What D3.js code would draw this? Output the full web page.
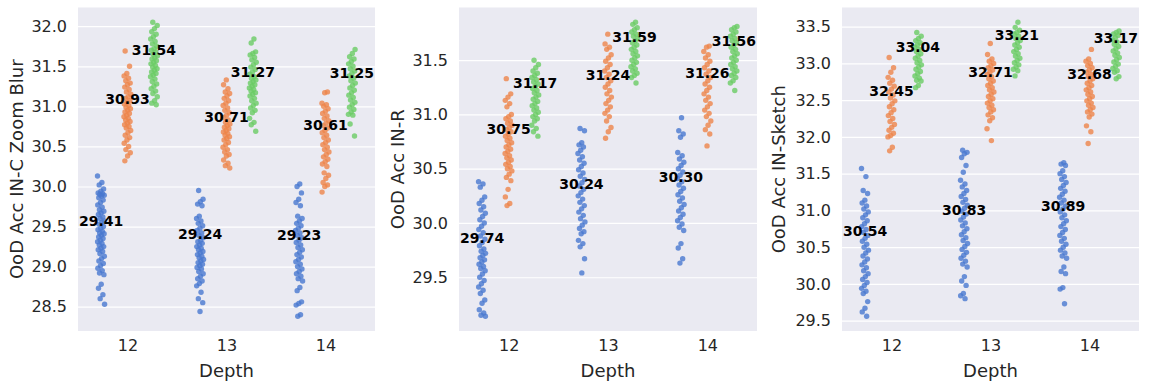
<!DOCTYPE html>
<html>
<head>
<meta charset="utf-8">
<script src="https://cdn.jsdelivr.net/npm/d3@7"></script>
<style>
  body { margin: 0; background: #fff; }
  svg { display: block; font-family: "DejaVu Sans", sans-serif; }
</style>
</head>
<body>
<svg id="chart"></svg>
<script>
const depths = ["12", "13", "14"];
const hueColors = ["#4878d0", "#ee854a", "#6acc64"];

// OoD Acc IN-C Zoom Blur
const zb12a = [30.13, 30.05, 30.02, 29.97, 29.94, 29.92, 29.91, 29.90, 29.89, 29.88, 29.86, 29.83, 29.80, 29.77, 29.74, 29.71, 29.69, 29.67, 29.65, 29.62, 29.60, 29.57, 29.55, 29.53, 29.50, 29.48, 29.46, 29.44, 29.42, 29.41, 29.39, 29.37, 29.35, 29.33, 29.31, 29.29, 29.27, 29.25, 29.23, 29.21, 29.19, 29.16, 29.13, 29.10, 29.07, 29.04, 29.01, 28.98, 28.95, 28.92, 28.90, 28.78, 28.73, 28.65, 28.60, 28.53];
const zb12b = [31.69, 31.50, 31.41, 31.38, 31.35, 31.32, 31.29, 31.27, 31.24, 31.21, 31.18, 31.15, 31.12, 31.10, 31.07, 31.05, 31.03, 31.01, 30.99, 30.97, 30.95, 30.93, 30.91, 30.89, 30.87, 30.85, 30.83, 30.81, 30.79, 30.77, 30.75, 30.73, 30.70, 30.67, 30.64, 30.61, 30.58, 30.54, 30.50, 30.46, 30.42, 30.38, 30.32];
const zb12c = [32.05, 32.01, 31.97, 31.93, 31.90, 31.87, 31.84, 31.81, 31.78, 31.75, 31.72, 31.70, 31.68, 31.65, 31.63, 31.61, 31.59, 31.57, 31.55, 31.53, 31.51, 31.49, 31.47, 31.45, 31.43, 31.41, 31.39, 31.37, 31.34, 31.31, 31.28, 31.25, 31.22, 31.19, 31.16, 31.12, 31.07, 31.04, 31.02];
const zb13a = [29.95, 29.84, 29.81, 29.78, 29.76, 29.63, 29.60, 29.57, 29.54, 29.51, 29.48, 29.45, 29.42, 29.39, 29.36, 29.33, 29.31, 29.29, 29.27, 29.25, 29.23, 29.21, 29.19, 29.17, 29.15, 29.13, 29.11, 29.09, 29.07, 29.05, 29.03, 29.01, 28.99, 28.97, 28.94, 28.91, 28.88, 28.85, 28.82, 28.79, 28.76, 28.68, 28.60, 28.55, 28.44];
const zb13b = [31.33, 31.27, 31.22, 31.18, 31.16, 31.13, 31.10, 31.07, 31.04, 31.01, 30.98, 30.95, 30.92, 30.89, 30.86, 30.83, 30.80, 30.78, 30.76, 30.74, 30.72, 30.70, 30.68, 30.66, 30.64, 30.62, 30.60, 30.58, 30.55, 30.52, 30.49, 30.46, 30.43, 30.40, 30.38, 30.33, 30.29, 30.26, 30.23];
const zb13c = [31.84, 31.79, 31.68, 31.66, 31.64, 31.61, 31.58, 31.55, 31.52, 31.49, 31.46, 31.43, 31.40, 31.37, 31.35, 31.33, 31.31, 31.29, 31.27, 31.25, 31.23, 31.21, 31.19, 31.17, 31.15, 31.13, 31.10, 31.07, 31.04, 31.01, 30.98, 30.95, 30.92, 30.85, 30.80, 30.77, 30.69];
const zb14a = [30.03, 30.00, 29.92, 29.84, 29.80, 29.76, 29.63, 29.60, 29.57, 29.54, 29.51, 29.48, 29.45, 29.42, 29.39, 29.36, 29.33, 29.30, 29.27, 29.24, 29.21, 29.18, 29.15, 29.12, 29.09, 29.06, 29.03, 29.00, 28.97, 28.94, 28.91, 28.88, 28.85, 28.82, 28.74, 28.70, 28.56, 28.54, 28.52, 28.40, 28.38];
const zb14b = [31.18, 31.17, 31.04, 31.02, 31.00, 30.97, 30.94, 30.91, 30.88, 30.85, 30.82, 30.79, 30.76, 30.73, 30.70, 30.67, 30.64, 30.61, 30.58, 30.55, 30.52, 30.49, 30.46, 30.43, 30.40, 30.37, 30.34, 30.31, 30.28, 30.25, 30.17, 30.14, 30.10, 30.05, 30.02, 30.00, 29.93];
const zb14c = [31.71, 31.66, 31.62, 31.59, 31.56, 31.53, 31.50, 31.47, 31.44, 31.41, 31.38, 31.35, 31.32, 31.29, 31.26, 31.23, 31.20, 31.17, 31.14, 31.11, 31.08, 31.05, 31.02, 30.99, 30.96, 30.93, 30.90, 30.89, 30.78, 30.63];
const zbMeans = [[29.41, 30.93, 31.54], [29.24, 30.71, 31.27], [29.23, 30.61, 31.25]];
const zbTicks = [28.5, 29.0, 29.5, 30.0, 30.5, 31.0, 31.5, 32.0];

// OoD Acc IN-R
const ir12a = [30.38, 30.36, 30.33, 30.24, 30.21, 30.18, 30.15, 30.12, 30.09, 30.06, 30.03, 30.00, 29.97, 29.94, 29.91, 29.88, 29.85, 29.82, 29.79, 29.76, 29.74, 29.72, 29.70, 29.68, 29.66, 29.64, 29.62, 29.60, 29.58, 29.56, 29.53, 29.50, 29.47, 29.44, 29.41, 29.38, 29.35, 29.29, 29.26, 29.20, 29.17, 29.15, 29.14];
const ir12b = [31.33, 31.19, 31.16, 31.13, 31.10, 31.07, 31.00, 30.98, 30.96, 30.94, 30.92, 30.90, 30.88, 30.86, 30.84, 30.82, 30.80, 30.78, 30.76, 30.74, 30.72, 30.70, 30.68, 30.66, 30.64, 30.62, 30.60, 30.58, 30.56, 30.54, 30.52, 30.50, 30.48, 30.45, 30.42, 30.39, 30.31, 30.24, 30.18, 30.16];
const ir12c = [31.50, 31.46, 31.43, 31.40, 31.38, 31.36, 31.34, 31.32, 31.30, 31.28, 31.26, 31.24, 31.22, 31.20, 31.18, 31.16, 31.14, 31.12, 31.10, 31.08, 31.06, 31.04, 31.02, 31.00, 30.98, 30.96, 30.94, 30.90, 30.87, 30.84, 30.80];
const ir13a = [30.87, 30.85, 30.74, 30.72, 30.70, 30.67, 30.64, 30.61, 30.58, 30.55, 30.52, 30.49, 30.46, 30.43, 30.40, 30.37, 30.34, 30.31, 30.28, 30.25, 30.22, 30.19, 30.16, 30.13, 30.10, 30.07, 30.04, 30.01, 29.98, 29.95, 29.92, 29.90, 29.84, 29.81, 29.78, 29.67, 29.54];
const ir13b = [31.74, 31.65, 31.62, 31.60, 31.55, 31.52, 31.49, 31.46, 31.43, 31.40, 31.37, 31.34, 31.31, 31.28, 31.25, 31.22, 31.19, 31.16, 31.13, 31.10, 31.07, 31.04, 31.01, 30.98, 30.94, 30.88, 30.84, 30.78];
const ir13c = [31.85, 31.83, 31.80, 31.78, 31.76, 31.74, 31.72, 31.70, 31.68, 31.66, 31.64, 31.62, 31.60, 31.58, 31.56, 31.54, 31.52, 31.50, 31.48, 31.46, 31.44, 31.42, 31.40, 31.38, 31.36, 31.34, 31.29];
const ir14a = [30.97, 30.85, 30.82, 30.79, 30.65, 30.62, 30.59, 30.56, 30.53, 30.50, 30.47, 30.44, 30.41, 30.38, 30.35, 30.32, 30.29, 30.26, 30.23, 30.20, 30.17, 30.14, 30.11, 30.08, 30.05, 30.02, 29.99, 29.96, 29.93, 29.81, 29.77, 29.67, 29.63];
const ir14b = [31.63, 31.62, 31.58, 31.55, 31.52, 31.49, 31.46, 31.43, 31.40, 31.37, 31.34, 31.31, 31.28, 31.25, 31.22, 31.19, 31.16, 31.13, 31.10, 31.07, 31.04, 31.01, 30.98, 30.94, 30.90, 30.86, 30.82, 30.71];
const ir14c = [31.81, 31.80, 31.78, 31.76, 31.74, 31.72, 31.70, 31.68, 31.66, 31.64, 31.62, 31.60, 31.58, 31.56, 31.54, 31.52, 31.50, 31.48, 31.46, 31.44, 31.42, 31.40, 31.38, 31.36, 31.34, 31.31, 31.29, 31.22];
const irMeans = [[29.74, 30.75, 31.17], [30.24, 31.24, 31.59], [30.30, 31.26, 31.56]];
const irTicks = [29.5, 30.0, 30.5, 31.0, 31.5];

// OoD Acc IN-Sketch
const sk12a = [31.57, 31.46, 31.27, 31.23, 31.14, 31.10, 31.06, 31.02, 30.98, 30.94, 30.90, 30.86, 30.82, 30.78, 30.74, 30.70, 30.66, 30.62, 30.58, 30.54, 30.50, 30.46, 30.42, 30.38, 30.34, 30.30, 30.26, 30.22, 30.18, 30.14, 30.10, 30.06, 30.02, 29.98, 29.94, 29.90, 29.87, 29.76, 29.67, 29.62, 29.56];
const sk12b = [33.08, 32.94, 32.88, 32.81, 32.77, 32.73, 32.69, 32.65, 32.61, 32.57, 32.53, 32.49, 32.45, 32.41, 32.37, 32.33, 32.29, 32.25, 32.21, 32.17, 32.13, 32.09, 32.05, 32.02, 32.00, 31.86, 31.81];
const sk12c = [33.42, 33.37, 33.34, 33.31, 33.28, 33.25, 33.22, 33.19, 33.16, 33.13, 33.10, 33.07, 33.04, 33.01, 32.98, 32.95, 32.92, 32.89, 32.86, 32.83, 32.80, 32.77, 32.76, 32.70, 32.67];
const sk13a = [31.82, 31.79, 31.77, 31.72, 31.61, 31.52, 31.41, 31.36, 31.32, 31.27, 31.23, 31.19, 31.15, 31.11, 31.07, 31.03, 30.99, 30.95, 30.91, 30.87, 30.83, 30.79, 30.75, 30.71, 30.67, 30.63, 30.59, 30.55, 30.51, 30.47, 30.43, 30.39, 30.35, 30.31, 30.27, 30.23, 30.10, 30.04, 29.98, 29.87, 29.84, 29.80];
const sk13b = [33.27, 33.12, 33.06, 33.03, 33.00, 32.97, 32.94, 32.91, 32.88, 32.85, 32.82, 32.79, 32.76, 32.73, 32.70, 32.67, 32.64, 32.61, 32.58, 32.55, 32.52, 32.49, 32.46, 32.43, 32.40, 32.37, 32.34, 32.30, 32.26, 32.22, 32.11, 31.95];
const sk13c = [33.56, 33.49, 33.45, 33.42, 33.40, 33.37, 33.34, 33.31, 33.28, 33.25, 33.22, 33.19, 33.16, 33.13, 33.10, 33.07, 33.04, 33.01, 32.98, 32.95, 32.92, 32.90, 32.83];
const sk14a = [31.65, 31.63, 31.61, 31.54, 31.50, 31.46, 31.42, 31.38, 31.34, 31.30, 31.26, 31.22, 31.18, 31.14, 31.10, 31.06, 31.02, 30.98, 30.94, 30.90, 30.86, 30.82, 30.78, 30.74, 30.70, 30.66, 30.62, 30.58, 30.54, 30.50, 30.46, 30.42, 30.38, 30.35, 30.23, 30.17, 30.14, 29.95, 29.93, 29.73];
const sk14b = [33.19, 33.06, 33.03, 33.00, 32.97, 32.94, 32.91, 32.88, 32.85, 32.82, 32.79, 32.76, 32.73, 32.70, 32.67, 32.64, 32.61, 32.58, 32.55, 32.52, 32.49, 32.46, 32.43, 32.40, 32.37, 32.34, 32.31, 32.27, 32.15, 32.07, 31.91];
const sk14c = [33.44, 33.42, 33.40, 33.38, 33.35, 33.32, 33.29, 33.26, 33.23, 33.20, 33.17, 33.14, 33.11, 33.08, 33.05, 33.02, 32.99, 32.96, 32.93, 32.90, 32.88, 32.82, 32.79];
const skMeans = [[30.54, 32.45, 33.04], [30.83, 32.71, 33.21], [30.89, 32.68, 33.17]];
const skTicks = [29.5, 30.0, 30.5, 31.0, 31.5, 32.0, 32.5, 33.0, 33.5];

const panels = [
  { label: "OoD Acc IN-C Zoom Blur", groups: [[zb12a, zb12b, zb12c], [zb13a, zb13b, zb13c], [zb14a, zb14b, zb14c]],
    means: zbMeans, ticks: zbTicks, left: 78, right: 375, labelX: 17 },
  { label: "OoD Acc IN-R", groups: [[ir12a, ir12b, ir12c], [ir13a, ir13b, ir13c], [ir14a, ir14b, ir14c]],
    means: irMeans, ticks: irTicks, left: 459, right: 757, labelX: 398 },
  { label: "OoD Acc IN-Sketch", groups: [[sk12a, sk12b, sk12c], [sk13a, sk13b, sk13c], [sk14a, sk14b, sk14c]],
    means: skMeans, ticks: skTicks, left: 842, right: 1139, labelX: 779 }
];

const width = 1150, height = 388;
const plotTop = 7.5, plotBottom = 331;
const hueOffsets = [-0.267, 0, 0.267];
const jitter = 0.036;

const svg = d3.select("#chart")
  .attr("width", width)
  .attr("height", height);

panels.forEach((p) => {
  const all = p.groups.flat(2);
  const lo = d3.min(all), hi = d3.max(all);
  const pad = (hi - lo) * 0.05;

  const y = d3.scaleLinear()
    .domain([lo - pad, hi + pad])
    .range([plotBottom, plotTop]);

  // category axis, slot i spans i-0.5 .. i+0.5
  const x = d3.scaleLinear()
    .domain([-0.5, depths.length - 0.5])
    .range([p.left, p.right]);

  const g = svg.append("g");

  g.append("rect")
    .attr("x", p.left)
    .attr("y", plotTop)
    .attr("width", p.right - p.left)
    .attr("height", plotBottom - plotTop)
    .attr("fill", "#eaeaf2");

  const yAxis = d3.axisLeft(y)
    .tickValues(p.ticks)
    .tickFormat(d3.format(".1f"))
    .tickSize(-(p.right - p.left))
    .tickPadding(11);

  const ya = g.append("g")
    .attr("transform", `translate(${p.left},0)`)
    .call(yAxis);
  ya.select(".domain").remove();
  ya.selectAll(".tick line").attr("stroke", "#fff").attr("stroke-width", 1.2);
  ya.selectAll(".tick text")
    .attr("fill", "#262626")
    .style("font-size", "16px")
    .style("font-family", "DejaVu Sans");

  const xAxis = d3.axisBottom(x)
    .tickValues(d3.range(depths.length))
    .tickFormat((i) => depths[i])
    .tickSize(0)
    .tickPadding(9);

  const xa = g.append("g")
    .attr("transform", `translate(0,${plotBottom})`)
    .call(xAxis);
  xa.select(".domain").remove();
  xa.selectAll(".tick text")
    .attr("fill", "#262626")
    .style("font-size", "16px")
    .style("font-family", "DejaVu Sans");

  g.append("text")
    .attr("x", (p.left + p.right) / 2)
    .attr("y", 377)
    .attr("text-anchor", "middle")
    .attr("fill", "#262626")
    .style("font-size", "18px")
    .text("Depth");

  g.append("text")
    .attr("transform", `translate(${p.labelX + 6},${(plotTop + plotBottom) / 2}) rotate(-90)`)
    .attr("text-anchor", "middle")
    .attr("fill", "#262626")
    .style("font-size", "18px")
    .text(p.label);

  // points
  p.groups.forEach((hues, di) => {
    hues.forEach((vals, hi2) => {
      g.append("g")
        .selectAll("circle")
        .data(vals)
        .enter()
        .append("circle")
        .attr("cx", (d, i) => x(di + hueOffsets[hi2] + ((i * 0.618034 + di * 0.3 + hi2 * 0.17) % 1 - 0.5) * 2 * jitter))
        .attr("cy", (d) => y(d))
        .attr("r", 2.7)
        .attr("fill", hueColors[hi2])
        .attr("fill-opacity", 0.8);
    });
  });

  // mean labels
  p.means.forEach((row, di) => {
    row.forEach((m, hi2) => {
      g.append("text")
        .attr("x", x(di + hueOffsets[hi2]))
        .attr("y", y(m) - 8)
        .attr("text-anchor", "middle")
        .attr("fill", "#000")
        .style("font-size", "14px")
        .style("font-weight", "bold")
        .text(m.toFixed(2));
    });
  });
});
</script>
</body>
</html>
